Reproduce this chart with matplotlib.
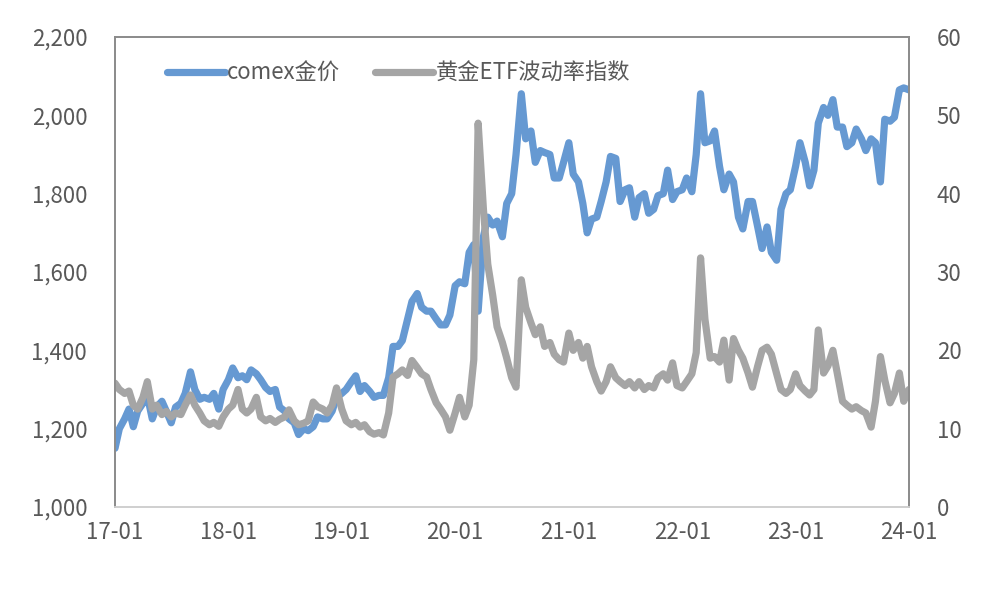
import numpy as np
import pandas as pd
import matplotlib
matplotlib.use("Agg")
import matplotlib.pyplot as plt
import matplotlib.dates as mdates

plt.rcParams['font.family'] = ['Noto Sans CJK SC', 'DejaVu Sans']

# 半月度取样 (1日 / 15日)
dates = pd.date_range('2017-01-01', periods=169, freq='SMS')

# comex 金价 (左轴)
gold = [
    1150, 1200, 1225, 1250, 1205, 1245, 1265, 1285, 1225, 1255, 1270, 1245,
    1215, 1255, 1265, 1290, 1345, 1300, 1275, 1280, 1275, 1290, 1250, 1300,
    1325, 1355, 1330, 1335, 1325, 1350, 1340, 1325, 1305, 1295, 1300, 1255,
    1245, 1225, 1215, 1185, 1200, 1195, 1205, 1230, 1225, 1225, 1245, 1280,
    1290, 1300, 1320, 1335, 1295, 1310, 1295, 1280, 1285, 1285, 1330, 1410,
    1410, 1425, 1480, 1525, 1545, 1510, 1500, 1500, 1480, 1465, 1465, 1490,
    1565, 1575, 1570, 1650, 1670, 1500, 1690, 1740, 1720, 1730, 1690, 1775,
    1800, 1900, 2055, 1940, 1960, 1880, 1910, 1905, 1900, 1840, 1840, 1880,
    1930, 1850, 1830, 1775, 1700, 1735, 1740, 1780, 1830, 1895, 1890, 1780,
    1810, 1815, 1740, 1790, 1800, 1750, 1760, 1795, 1800, 1860, 1785, 1805,
    1810, 1840, 1805, 1900, 2055, 1930, 1935, 1960, 1870, 1810, 1850, 1830,
    1740, 1710, 1780, 1780, 1715, 1660, 1715, 1650, 1630, 1760, 1800, 1810,
    1870, 1930, 1880, 1820, 1860, 1980, 2020, 2000, 2040, 1970, 1970, 1920,
    1930, 1965, 1940, 1910, 1940, 1930, 1830, 1990, 1985, 1995, 2065, 2070,
    2065,
]

# 黄金ETF波动率指数 (右轴)
gvz = [
    15.8, 15.0, 14.5, 14.8, 13.0, 12.5, 14.0, 16.0, 12.5, 13.0, 11.8, 12.2,
    11.5, 12.0, 11.8, 13.0, 14.3, 13.0, 12.0, 11.0, 10.5, 10.8, 10.3, 11.5,
    12.5, 13.0, 15.0, 12.5, 12.0, 12.5, 14.0, 11.5, 11.0, 11.3, 10.8, 11.2,
    11.5, 12.4, 11.0, 10.5, 10.7, 11.0, 13.4, 12.8, 12.5, 12.0, 13.0, 15.2,
    12.5, 11.0, 10.5, 10.8, 10.2, 10.5, 9.6, 9.3, 9.5, 9.2, 12.0, 16.6,
    17.0, 17.5, 16.8, 18.7, 17.8, 17.0, 16.6, 15.0, 13.3, 12.5, 11.5, 9.8,
    12.0, 14.0, 11.5, 13.0, 18.8, 49.0, 38.0, 31.0, 27.0, 23.0, 21.0, 19.0,
    16.5, 15.3, 29.0, 25.5, 23.5, 22.0, 23.0, 20.5, 21.0, 19.5, 18.8, 18.5,
    22.2, 20.0, 21.0, 19.0, 20.5, 17.9, 16.0, 14.8, 16.0, 17.9, 16.5, 16.0,
    15.5, 16.0, 15.2, 16.0, 15.0, 15.5, 15.2, 16.5, 17.0, 16.2, 18.4, 15.5,
    15.2, 16.0, 17.0, 19.7, 31.8, 24.0, 19.0, 19.2, 18.5, 21.3, 16.2, 21.5,
    20.0, 19.0, 17.1, 15.3, 18.0, 20.0, 20.4, 19.5, 17.0, 15.0, 14.5, 15.0,
    17.0, 15.5, 14.8, 14.3, 15.0, 22.6, 17.1, 18.0, 20.0, 17.1, 13.5, 13.0,
    12.5, 12.8, 12.3, 12.0, 10.2, 13.5, 19.2, 16.2, 13.3, 14.5, 17.1, 13.5,
    15.0,
]

blue = '#6699D2'
grey = '#A5A5A5'
txt = '#595959'

fig = plt.figure(figsize=(9.98, 6.05), dpi=100)
ax = fig.add_axes([115 / 998, 98 / 605, 794 / 998, 470 / 605])
ax2 = ax.twinx()

l1, = ax.plot(dates, gold, color=blue, lw=5.2, solid_capstyle='round',
              solid_joinstyle='round', label='comex金价')
l2, = ax2.plot(dates, gvz, color=grey, lw=5.2, solid_capstyle='round',
               solid_joinstyle='round', label='黄金ETF波动率指数')

ax.set_xlim(pd.Timestamp('2017-01-01'), pd.Timestamp('2024-01-01'))
ax.set_ylim(1000, 2200)
ax2.set_ylim(0, 60)
ax.set_yticks(np.arange(1000, 2201, 200))
ax2.set_yticks(np.arange(0, 61, 10))
ax.yaxis.set_major_formatter(plt.FuncFormatter(lambda v, p: f'{int(v):,}'))
ax.xaxis.set_major_locator(mdates.YearLocator())
ax.xaxis.set_major_formatter(mdates.DateFormatter('%y-%m'))

for a in (ax, ax2):
    a.tick_params(length=0, labelsize=16, labelcolor=txt)
    for s in a.spines.values():
        s.set_color('#8C8C8C')
        s.set_linewidth(1.3)
    a.spines['bottom'].set_color('#D0D0D0')
ax.tick_params(axis='y', pad=20)
ax2.tick_params(axis='y', pad=20)
ax.tick_params(axis='x', pad=10)

ax2.legend(handles=[l1, l2], loc='upper left', bbox_to_anchor=(0.04, 0.99),
           ncol=2, frameon=False, fontsize=16, handlelength=2.6,
           handletextpad=0.1, columnspacing=1.6, labelcolor=txt)

fig.savefig('out.png', dpi=100, facecolor='white')
